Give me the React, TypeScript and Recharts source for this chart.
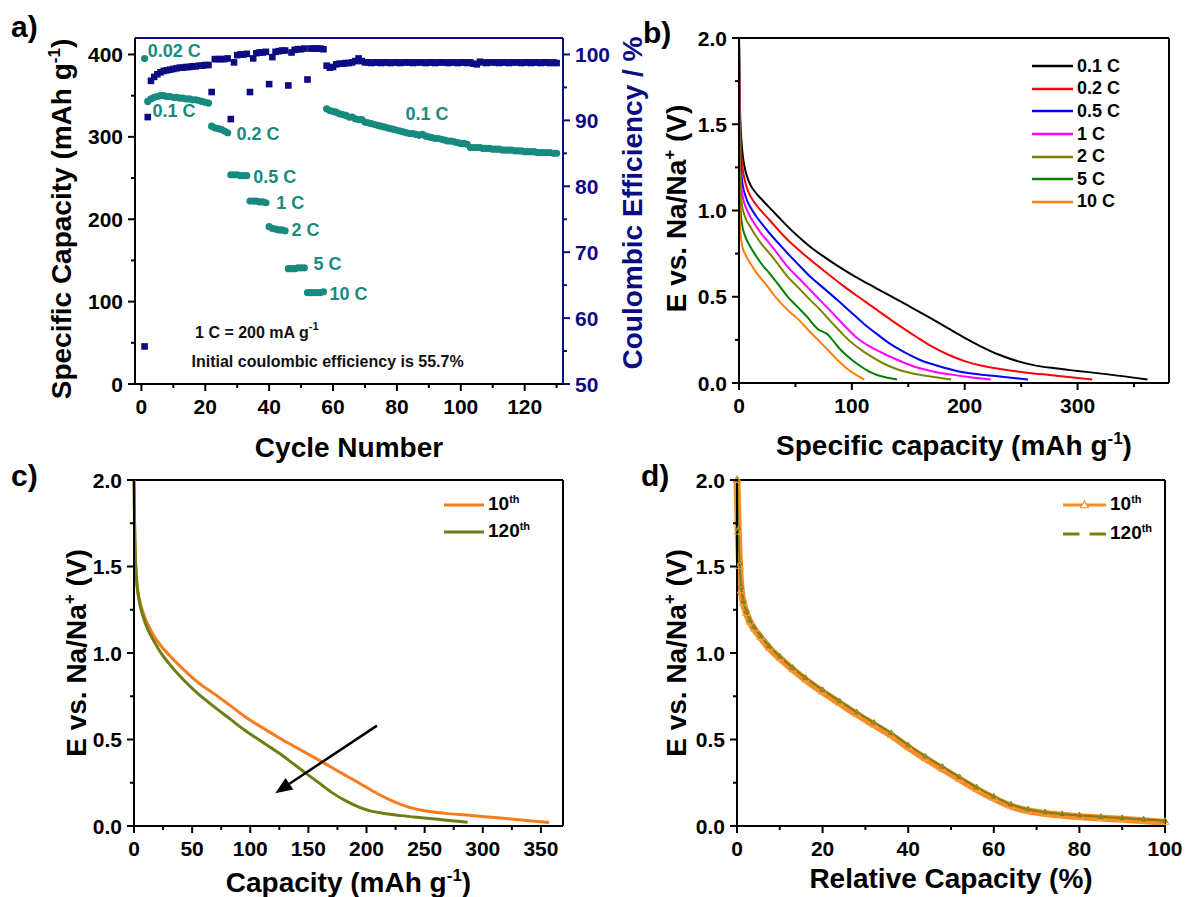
import React from "react";
import {
  ComposedChart,
  LineChart,
  Line,
  Scatter,
  XAxis,
  YAxis,
  ReferenceLine,
  ReferenceDot,
  Legend,
} from "recharts";

type Pt = [number, number];

const FONT = '"Liberation Sans", Arial, Helvetica, sans-serif';
const TEAL = "#178a80";
const NAVY = "#0c0c82";

// ---------- a) rate capability, cycles 1..130 ----------
const capacity = [
  395,
  343, 346, 348, 349, 350, 350, 349, 349, 348, 348,
  347, 347, 346, 346, 345, 345, 344, 343, 342, 341,
  313, 311, 310, 309, 307, 305,
  254, 254, 254, 253, 253, 253,
  222, 222, 222, 221, 221, 220,
  191, 189, 188, 187, 187, 186,
  140, 140, 140, 141, 141, 141,
  111, 111, 111, 111, 111, 112,
  334, 332, 331, 330, 328, 327, 326, 324, 324, 322,
  321, 321, 318, 317, 316, 315, 314, 313, 312, 311,
  310, 309, 308, 307, 306, 305, 304, 304, 303, 302,
  303, 301, 300, 299, 298, 298, 297, 296, 295, 295,
  294, 293, 292, 292, 291, 287, 287, 287, 287, 286,
  286, 286, 285, 285, 285, 284, 284, 284, 284, 283,
  283, 283, 282, 282, 282, 282, 281, 281, 281, 281,
  281, 280, 280,
];

const efficiency = [
  55.7,
  90.5,
  96.0, 96.6, 97.0, 97.3, 97.5, 97.6, 97.7, 97.8, 97.9, 98.0,
  98.0, 98.1, 98.1, 98.2, 98.2, 98.3, 98.3, 98.4, 98.4,
  94.3, 99.3, 99.3, 99.3, 99.3, 99.4,
  90.2, 98.8, 99.9, 100.0, 100.0, 100.1,
  94.3, 99.4, 100.2, 100.3, 100.3, 100.4,
  95.5, 99.6, 100.4, 100.5, 100.6, 100.6,
  95.3, 100.3, 100.7, 100.8, 100.8, 100.9,
  96.2, 100.9, 100.9, 100.9, 100.9, 100.8,
  98.3, 98.0, 98.1, 98.5, 98.6, 98.6, 98.7, 98.7, 98.8, 99.0,
  99.4, 99.0, 98.8, 98.8, 98.7, 98.8, 98.8, 98.7, 98.8, 98.8,
  98.7, 98.8, 98.8, 98.7, 98.8, 98.8, 98.8, 98.7, 98.8, 98.8,
  98.8, 98.7, 98.8, 98.8, 98.7, 98.8, 98.8, 98.8, 98.7, 98.8,
  98.8, 98.7, 98.8, 98.8, 98.7, 98.8, 98.6, 98.5, 98.9, 98.8,
  98.7, 98.8, 98.8, 98.8, 98.7, 98.8, 98.8, 98.7, 98.8, 98.8,
  98.8, 98.7, 98.8, 98.8, 98.7, 98.8, 98.8, 98.7, 98.8, 98.8,
  98.7, 98.8, 98.7,
];

const aNotes = [
  { x: 2.0, y: 397, text: "0.02 C" },
  { x: 3.5, y: 324, text: "0.1 C" },
  { x: 29.8, y: 296, text: "0.2 C" },
  { x: 35.0, y: 244, text: "0.5 C" },
  { x: 42.2, y: 212, text: "1 C" },
  { x: 47.0, y: 180, text: "2 C" },
  { x: 53.9, y: 138, text: "5 C" },
  { x: 58.9, y: 102, text: "10 C" },
  { x: 82.7, y: 320, text: "0.1 C" },
];

// ---------- b) discharge curves at different rates ----------
const rateNames = ["0.1 C", "0.2 C", "0.5 C", "1 C", "2 C", "5 C", "10 C"];
const curve01C: Pt[] = [[0, 2.0], [0.5, 1.72], [1.2, 1.52], [2.2, 1.4], [3.5, 1.31], [5, 1.25], [7, 1.2], [10, 1.15], [14, 1.11], [20, 1.065], [27, 1.017], [35, 0.962], [43, 0.908], [53, 0.846], [63, 0.79], [78, 0.72], [93, 0.656], [110, 0.59], [130, 0.52], [150, 0.448], [167, 0.386], [185, 0.318], [200, 0.262], [215, 0.21], [230, 0.165], [245, 0.13], [260, 0.105], [280, 0.085], [300, 0.07], [327, 0.05], [362, 0.02]];
const curve02C: Pt[] = [[0, 2.0], [0.4, 1.72], [1, 1.5], [2, 1.33], [3.3, 1.24], [5, 1.18], [7, 1.13], [10, 1.085], [15, 1.035], [20, 0.995], [27, 0.945], [35, 0.886], [43, 0.83], [55, 0.76], [67, 0.694], [80, 0.626], [93, 0.56], [107, 0.494], [120, 0.434], [143, 0.328], [157, 0.268], [170, 0.215], [185, 0.165], [200, 0.127], [215, 0.1], [233, 0.08], [255, 0.06], [277, 0.045], [313, 0.02]];
const curve05C: Pt[] = [[0, 2.0], [0.3, 1.72], [0.8, 1.45], [1.6, 1.28], [3, 1.16], [5, 1.1], [7, 1.06], [10, 1.02], [15, 0.968], [20, 0.925], [27, 0.868], [35, 0.81], [43, 0.752], [53, 0.684], [63, 0.617], [75, 0.55], [87, 0.482], [99, 0.412], [110, 0.347], [122, 0.285], [133, 0.231], [146, 0.18], [160, 0.135], [176, 0.1], [193, 0.07], [210, 0.052], [227, 0.04], [256, 0.02]];
const curve1C: Pt[] = [[0, 2.0], [0.3, 1.65], [0.8, 1.35], [1.6, 1.19], [3.3, 1.08], [6, 1.02], [10, 0.964], [15, 0.91], [20, 0.865], [27, 0.81], [35, 0.742], [43, 0.675], [53, 0.607], [63, 0.54], [73, 0.472], [83, 0.405], [93, 0.335], [103, 0.27], [115, 0.215], [127, 0.174], [140, 0.135], [153, 0.1], [170, 0.07], [187, 0.05], [205, 0.033], [223, 0.02]];
const curve2C: Pt[] = [[0, 2.0], [0.2, 1.65], [0.6, 1.28], [1.4, 1.12], [2.7, 1.03], [5, 0.97], [10, 0.906], [15, 0.852], [20, 0.805], [27, 0.752], [35, 0.685], [43, 0.617], [53, 0.55], [63, 0.482], [72, 0.424], [80, 0.366], [88, 0.31], [97, 0.25], [107, 0.198], [117, 0.154], [128, 0.113], [140, 0.08], [153, 0.056], [167, 0.04], [188, 0.02]];
const curve5C: Pt[] = [[0, 2.0], [0.2, 1.55], [0.6, 1.18], [1.4, 1.0], [2.7, 0.92], [5, 0.86], [10, 0.79], [15, 0.738], [20, 0.69], [27, 0.636], [35, 0.57], [43, 0.501], [52, 0.44], [60, 0.386], [66, 0.338], [70, 0.312], [74, 0.298], [78, 0.285], [84, 0.24], [90, 0.193], [98, 0.145], [107, 0.1], [115, 0.068], [123, 0.045], [132, 0.03], [140, 0.02]];
const curve10C: Pt[] = [[0, 2.0], [0.2, 1.3], [0.6, 0.98], [1.5, 0.86], [3, 0.79], [6, 0.74], [10, 0.694], [16, 0.634], [23, 0.579], [31, 0.51], [40, 0.444], [47, 0.4], [53, 0.366], [61, 0.31], [70, 0.25], [79, 0.19], [87, 0.135], [94, 0.093], [100, 0.062], [106, 0.038], [111, 0.02]];
const rateCurves = [curve01C, curve02C, curve05C, curve1C, curve2C, curve5C, curve10C];
const rateColors = ["#000000", "#ff0000", "#0000ff", "#ff00ff", "#808000", "#008000", "#ff8000"];

// ---------- c) 10th vs 120th cycle ----------
const cycle10: Pt[] = [[0, 2.0], [0.5, 1.75], [1.2, 1.55], [2.2, 1.43], [3.5, 1.35], [5, 1.3], [7, 1.25], [9.6, 1.2], [13, 1.15], [17, 1.1], [22.7, 1.045], [30, 0.99], [42.5, 0.905], [55, 0.83], [68.8, 0.765], [82, 0.7], [95, 0.635], [110, 0.57], [128, 0.497], [146, 0.43], [164, 0.362], [180, 0.3], [194, 0.247], [209, 0.188], [224, 0.14], [237, 0.108], [250, 0.088], [268, 0.073], [286, 0.063], [304, 0.052], [322, 0.042], [340, 0.031], [357, 0.02]];
const cycle120: Pt[] = [[0, 2.0], [0.5, 1.75], [1.2, 1.55], [2.2, 1.42], [3.5, 1.34], [5, 1.28], [7, 1.23], [9.6, 1.175], [13, 1.12], [17, 1.07], [22.7, 1.005], [30, 0.94], [42.5, 0.845], [55, 0.765], [68.8, 0.69], [82, 0.622], [95, 0.555], [110, 0.487], [125, 0.42], [137, 0.36], [148, 0.304], [160, 0.245], [171, 0.19], [183, 0.142], [194, 0.108], [204, 0.086], [214, 0.074], [230, 0.06], [247, 0.048], [267, 0.035], [287, 0.022]];
const arrowFrom = { x: 209, y: 0.58 };
const arrowTo = { x: 121.5, y: 0.19 };

// ---------- d) relative capacity ----------
const rel10: Pt[] = [[0, 2.0], [0.3, 1.7], [0.6, 1.5], [1, 1.36], [1.5, 1.29], [2.2, 1.23], [3, 1.18], [4, 1.14], [5.5, 1.09], [7.5, 1.03], [10, 0.97], [13, 0.905], [16, 0.845], [20, 0.775], [24, 0.71], [28, 0.645], [32, 0.585], [36, 0.525], [40, 0.455], [44, 0.39], [48, 0.33], [52, 0.27], [56, 0.212], [60, 0.16], [64, 0.115], [68, 0.088], [72, 0.072], [76, 0.062], [80, 0.054], [85, 0.046], [90, 0.039], [95, 0.031], [100, 0.022]];
const rel120: Pt[] = [[0, 2.0], [0.3, 1.72], [0.6, 1.52], [1, 1.38], [1.5, 1.3], [2.2, 1.24], [3, 1.19], [4, 1.15], [5.5, 1.1], [7.5, 1.04], [10, 0.98], [13, 0.915], [16, 0.857], [20, 0.787], [24, 0.722], [28, 0.658], [32, 0.598], [36, 0.538], [40, 0.468], [44, 0.403], [48, 0.343], [52, 0.283], [56, 0.224], [60, 0.171], [64, 0.125], [68, 0.096], [72, 0.079], [76, 0.069], [80, 0.061], [85, 0.053], [90, 0.046], [95, 0.038], [100, 0.03]];

// ---------- ticks ----------
const aXMajor = [0, 20, 40, 60, 80, 100, 120];
const aXMinor = [10, 30, 50, 70, 90, 110, 130];
const capMajor = [0, 100, 200, 300, 400];
const capMinor = [50, 150, 250, 350];
const ceMajor = [50, 60, 70, 80, 90, 100];
const ceMinor = [55, 65, 75, 85, 95];
const vMajor = [0, 0.5, 1, 1.5, 2];
const vMinor = [0.25, 0.75, 1.25, 1.75];
const bXMajor = [0, 100, 200, 300];
const bXMinor = [50, 150, 250, 350];
const cXMajor = [0, 50, 100, 150, 200, 250, 300, 350];
const cXMinor = [25, 75, 125, 175, 225, 275, 325];
const dXMajor = [0, 20, 40, 60, 80, 100];
const dXMinor = [10, 30, 50, 70, 90];

const rows = (pts: Pt[]) => pts.map(([x, v]) => ({ x, v }));
const fmtV = (v: number) => v.toFixed(1);
const txt = { fontFamily: FONT, fontWeight: "bold" as const };

function BottomTick(props: any) {
  const { x, y, payload, majors, fmt = String } = props;
  const major = majors.includes(payload.value);
  return (
    <g>
      <line x1={x} y1={y} x2={x} y2={y + (major ? 7 : 4)} stroke="#000" strokeWidth={2} />
      {major && (
        <text x={x} y={y + 22} dy="0.36em" textAnchor="middle" fontSize={21} fill="#000" {...txt}>
          {fmt(payload.value)}
        </text>
      )}
    </g>
  );
}

function SideTick(props: any) {
  const { x, y, payload, majors, fmt = String, side = "left", color = "#000" } = props;
  const major = majors.includes(payload.value);
  const s = side === "left" ? -1 : 1;
  return (
    <g>
      <line x1={x} y1={y} x2={x + s * (major ? 7 : 4)} y2={y} stroke={color} strokeWidth={2} />
      {major && (
        <text x={x + s * 12} y={y} dy="0.36em" textAnchor={side === "left" ? "end" : "start"} fontSize={21} fill={color} {...txt}>
          {fmt(payload.value)}
        </text>
      )}
    </g>
  );
}

function YTitle(props: any) {
  const { viewBox, dx, dyc = 0, text, sup, after = "", color = "#000", letter, lx = 0, ly = 0 } = props;
  const cx = viewBox.x + dx;
  const cy = viewBox.y + viewBox.height / 2 + dyc;
  return (
    <g>
      <text x={cx} y={cy + 10} transform={`rotate(-90 ${cx} ${cy})`} textAnchor="middle" fontSize={28} fill={color} {...txt}>
        {text}
        {sup && <tspan dy={-11} fontSize={17}>{sup}</tspan>}
        {sup && <tspan dy={11}>{after}</tspan>}
      </text>
      {letter && (
        <text x={lx} y={ly} fontSize={30} fill="#000" {...txt}>
          {letter}
        </text>
      )}
    </g>
  );
}

function XTitle(props: any) {
  const { viewBox, dy, text, sup, after = "" } = props;
  const cx = viewBox.x + viewBox.width / 2;
  const cy = viewBox.y + dy;
  return (
    <text x={cx} y={cy + 10} textAnchor="middle" fontSize={28} fill="#000" {...txt}>
      {text}
      {sup && <tspan dy={-11} fontSize={17}>{sup}</tspan>}
      {sup && <tspan dy={11}>{after}</tspan>}
    </text>
  );
}

function NoteText(props: any) {
  const { viewBox, text, sup, color = TEAL, size = 18 } = props;
  return (
    <text x={viewBox.x} y={viewBox.y} fontSize={size} fill={color} {...txt}>
      {text}
      {sup && <tspan dy={-8} fontSize={11}>{sup}</tspan>}
    </text>
  );
}

function Arrow(props: any) {
  const { x1, y1, x2, y2 } = props;
  const a = Math.atan2(y2 - y1, x2 - x1);
  const len = 17;
  const half = 7;
  const bx = x2 - len * Math.cos(a);
  const by = y2 - len * Math.sin(a);
  const px = -Math.sin(a) * half;
  const py = Math.cos(a) * half;
  return (
    <g>
      <line x1={x1} y1={y1} x2={bx} y2={by} stroke="#000" strokeWidth={2.5} />
      <polygon points={`${x2},${y2} ${bx + px},${by + py} ${bx - px},${by - py}`} fill="#000" />
    </g>
  );
}

function triPath(cx: number, cy: number, s: number) {
  return `M${cx},${cy - s} L${cx + s * 0.87},${cy + s * 0.5} L${cx - s * 0.87},${cy + s * 0.5} Z`;
}

function RateLegend() {
  return (
    <div style={{ ...txt, fontSize: 18 }}>
      {rateNames.map((name, i) => (
        <div key={name} style={{ display: "flex", alignItems: "center", height: 22.6 }}>
          <svg width={41} height={6}>
            <line x1={0} y1={3} x2={41} y2={3} stroke={rateColors[i]} strokeWidth={2.5} />
          </svg>
          <span style={{ marginLeft: 4 }}>{name}</span>
        </div>
      ))}
    </div>
  );
}

function CycleLegend(props: any) {
  const { markers, rowH, lineW, colors } = props;
  const names = ["10", "120"];
  return (
    <div style={{ ...txt, fontSize: 19 }}>
      {names.map((n, i) => (
        <div key={n} style={{ display: "flex", alignItems: "center", height: rowH }}>
          <svg width={lineW} height={12}>
            {markers && i === 1 ? (
              <>
                <line x1={0} y1={6} x2={lineW / 2 - 5} y2={6} stroke={colors[i]} strokeWidth={3} />
                <line x1={lineW / 2 + 5} y1={6} x2={lineW} y2={6} stroke={colors[i]} strokeWidth={3} />
              </>
            ) : (
              <line x1={0} y1={6} x2={lineW} y2={6} stroke={colors[i]} strokeWidth={3} />
            )}
            {markers && i === 0 && (
              <path d={triPath(lineW / 2, 6.5, 4.5)} fill="#fff" stroke={colors[i]} strokeWidth={1.2} />
            )}
          </svg>
          <span style={{ marginLeft: 4 }}>
            {n}
            <sup style={{ fontSize: 11 }}>th</sup>
          </span>
        </div>
      ))}
    </div>
  );
}

const axisLine = { stroke: "#000", strokeWidth: 2 };

function PanelA() {
  const capPts = capacity.map((v, i) => ({ cycle: i + 1, cap: v }));
  const cePts = efficiency.map((v, i) => ({ cycle: i + 1, ce: v }));
  return (
    <ComposedChart width={650} height={470} margin={{ top: 38, right: 0, left: 0, bottom: 0 }}>
      <XAxis
        dataKey="cycle"
        type="number"
        domain={[-2, 132]}
        ticks={[...aXMajor, ...aXMinor]}
        interval={0}
        tickSize={0}
        tickMargin={0}
        tickLine={false}
        axisLine={axisLine}
        height={86}
        tick={<BottomTick majors={aXMajor} />}
        label={<XTitle dy={63} text="Cycle Number" />}
      />
      <YAxis
        yAxisId="left"
        type="number"
        domain={[0, 420]}
        ticks={[...capMajor, ...capMinor]}
        interval={0}
        tickSize={0}
        tickMargin={0}
        tickLine={false}
        axisLine={axisLine}
        width={135}
        tick={<SideTick majors={capMajor} side="left" />}
        label={<YTitle dx={61} dyc={8} text="Specific Capacity (mAh g" sup="-1" after=")" letter="a)" lx={11} ly={37} />}
      />
      <YAxis
        yAxisId="right"
        orientation="right"
        type="number"
        domain={[50, 102.5]}
        ticks={[...ceMajor, ...ceMinor]}
        interval={0}
        tickSize={0}
        tickMargin={0}
        tickLine={false}
        axisLine={{ stroke: NAVY, strokeWidth: 2 }}
        width={87}
        tick={<SideTick majors={ceMajor} side="right" color={NAVY} />}
        label={<YTitle dx={69} dyc={-8} text="Coulombic Efficiency / %" color={NAVY} />}
      />
      <ReferenceLine yAxisId="left" y={420} stroke={NAVY} strokeWidth={2} />
      <Scatter
        yAxisId="left"
        data={capPts}
        dataKey="cap"
        isAnimationActive={false}
        shape={(p: any) => <circle cx={p.cx} cy={p.cy} r={3.6} fill={TEAL} />}
      />
      <Scatter
        yAxisId="right"
        data={cePts}
        dataKey="ce"
        isAnimationActive={false}
        shape={(p: any) => <rect x={p.cx - 3.3} y={p.cy - 3.3} width={6.6} height={6.6} fill={NAVY} />}
      />
      {aNotes.map((n, i) => (
        <ReferenceDot key={i} yAxisId="left" x={n.x} y={n.y} r={0} stroke="none" fill="none" label={<NoteText text={n.text} />} />
      ))}
      <ReferenceDot yAxisId="left" x={16.8} y={56} r={0} stroke="none" fill="none" label={<NoteText text="1 C = 200 mA g" sup="-1" color="#111" size={16} />} />
      <ReferenceDot yAxisId="left" x={15.7} y={21} r={0} stroke="none" fill="none" label={<NoteText text="Initial coulombic efficiency is 55.7%" color="#111" size={16} />} />
    </ComposedChart>
  );
}

function PanelB() {
  return (
    <LineChart width={587} height={470} margin={{ top: 38, right: 18, left: 0, bottom: 0 }}>
      <XAxis
        dataKey="x"
        type="number"
        domain={[0, 381]}
        ticks={[...bXMajor, ...bXMinor]}
        interval={0}
        tickSize={0}
        tickMargin={0}
        tickLine={false}
        axisLine={axisLine}
        height={87}
        tick={<BottomTick majors={bXMajor} />}
        label={<XTitle dy={62} text="Specific capacity (mAh g" sup="-1" after=")" />}
      />
      <YAxis
        type="number"
        domain={[0, 2]}
        ticks={[...vMajor, ...vMinor]}
        interval={0}
        tickSize={0}
        tickMargin={0}
        tickLine={false}
        axisLine={axisLine}
        width={139}
        tick={<SideTick majors={vMajor} fmt={fmtV} side="left" />}
        label={<YTitle dx={76} dyc={-2} text="E vs. Na/Na" sup="+" after=" (V)" letter="b)" lx={43} ly={43} />}
      />
      <ReferenceLine y={2} stroke="#000" strokeWidth={2} />
      <ReferenceLine x={381} stroke="#000" strokeWidth={2} />
      {rateCurves.map((c, i) => (
        <Line
          key={rateNames[i]}
          name={rateNames[i]}
          data={rows(c)}
          dataKey="v"
          type="monotone"
          stroke={rateColors[i]}
          strokeWidth={2}
          dot={false}
          isAnimationActive={false}
        />
      ))}
      <Legend
        layout="horizontal"
        align="center"
        verticalAlign="middle"
        content={<RateLegend />}
        wrapperStyle={{ left: 432, top: 55, width: 140, height: 160 }}
      />
    </LineChart>
  );
}

function PanelC() {
  return (
    <LineChart width={600} height={437} margin={{ top: 20, right: 37, left: 0, bottom: 0 }}>
      <XAxis
        dataKey="x"
        type="number"
        domain={[0, 369]}
        ticks={[...cXMajor, ...cXMinor]}
        interval={0}
        tickSize={0}
        tickMargin={0}
        tickLine={false}
        axisLine={axisLine}
        height={71}
        tick={<BottomTick majors={cXMajor} />}
        label={<XTitle dy={56} text="Capacity (mAh g" sup="-1" after=")" />}
      />
      <YAxis
        type="number"
        domain={[0, 2]}
        ticks={[...vMajor, ...vMinor]}
        interval={0}
        tickSize={0}
        tickMargin={0}
        tickLine={false}
        axisLine={axisLine}
        width={134}
        tick={<SideTick majors={vMajor} fmt={fmtV} side="left" />}
        label={<YTitle dx={76} text="E vs. Na/Na" sup="+" after=" (V)" letter="c)" lx={11} ly={26} />}
      />
      <ReferenceLine y={2} stroke="#000" strokeWidth={2} />
      <ReferenceLine x={369} stroke="#000" strokeWidth={2} />
      <Line data={rows(cycle10)} dataKey="v" type="monotone" stroke="#f97c1c" strokeWidth={3} dot={false} isAnimationActive={false} />
      <Line data={rows(cycle120)} dataKey="v" type="monotone" stroke="#6f7d14" strokeWidth={3} dot={false} isAnimationActive={false} />
      <ReferenceLine segment={[arrowFrom, arrowTo]} shape={<Arrow />} />
      <Legend
        layout="horizontal"
        align="center"
        verticalAlign="middle"
        content={<CycleLegend rowH={27} lineW={40} colors={["#f97c1c", "#6f7d14"]} />}
        wrapperStyle={{ left: 444, top: 31, width: 120, height: 60 }}
      />
    </LineChart>
  );
}

function PanelD() {
  const orange = "#f98c24";
  const olive = "#7d7d16";
  return (
    <LineChart width={587} height={437} margin={{ top: 20, right: 22, left: 0, bottom: 0 }}>
      <XAxis
        dataKey="x"
        type="number"
        domain={[0, 100]}
        ticks={[...dXMajor, ...dXMinor]}
        interval={0}
        tickSize={0}
        tickMargin={0}
        tickLine={false}
        axisLine={axisLine}
        height={71}
        tick={<BottomTick majors={dXMajor} />}
        label={<XTitle dy={52} text="Relative Capacity (%)" />}
      />
      <YAxis
        type="number"
        domain={[0, 2]}
        ticks={[...vMajor, ...vMinor]}
        interval={0}
        tickSize={0}
        tickMargin={0}
        tickLine={false}
        axisLine={axisLine}
        width={137}
        tick={<SideTick majors={vMajor} fmt={fmtV} side="left" />}
        label={<YTitle dx={76} text="E vs. Na/Na" sup="+" after=" (V)" letter="d)" lx={41} ly={26} />}
      />
      <ReferenceLine y={2} stroke="#000" strokeWidth={2} />
      <ReferenceLine x={100} stroke="#000" strokeWidth={2} />
      <Line
        data={rows(rel10)}
        dataKey="v"
        type="monotone"
        stroke={orange}
        strokeWidth={7}
        isAnimationActive={false}
        dot={(p: any) => <path key={`t10-${p.index}`} d={triPath(p.cx, p.cy, 4.5)} fill="none" stroke="#f6a050" strokeWidth={1} />}
      />
      <Line
        data={rows(rel120)}
        dataKey="v"
        type="monotone"
        stroke={olive}
        strokeWidth={2}
        isAnimationActive={false}
        dot={(p: any) => <path key={`t120-${p.index}`} d={triPath(p.cx, p.cy, 3)} fill="none" stroke={olive} strokeWidth={1} />}
      />
      <Legend
        layout="horizontal"
        align="center"
        verticalAlign="middle"
        content={<CycleLegend markers rowH={29} lineW={43} colors={[orange, olive]} />}
        wrapperStyle={{ left: 463, top: 30, width: 120, height: 60 }}
      />
    </LineChart>
  );
}

export default function App() {
  return (
    <div style={{ position: "absolute", left: 0, top: 0, width: 1187, height: 897, background: "#fff", overflow: "hidden" }}>
      <div style={{ position: "absolute", left: 0, top: 0 }}>
        <PanelA />
      </div>
      <div style={{ position: "absolute", left: 600, top: 0 }}>
        <PanelB />
      </div>
      <div style={{ position: "absolute", left: 0, top: 460 }}>
        <PanelC />
      </div>
      <div style={{ position: "absolute", left: 600, top: 460 }}>
        <PanelD />
      </div>
    </div>
  );
}
